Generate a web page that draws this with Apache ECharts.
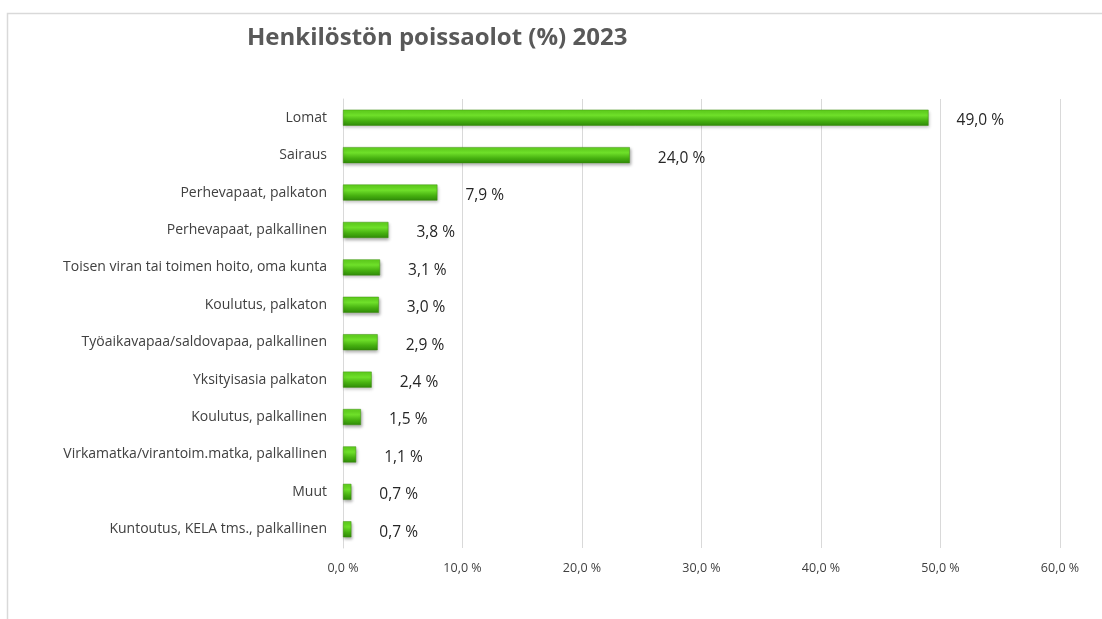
<!DOCTYPE html>
<html><head><meta charset="utf-8">
<script src="https://cdn.jsdelivr.net/npm/echarts@6/dist/echarts.min.js"></script>
<style>html,body{margin:0;padding:0;background:#fff}#c{width:1102px;height:619px}</style>
</head><body><div id="c"></div>
<script>
const categories = ["Lomat","Sairaus","Perhevapaat, palkaton","Perhevapaat, palkallinen","Toisen viran tai toimen hoito, oma kunta","Koulutus, palkaton","Työaikavapaa/saldovapaa, palkallinen","Yksityisasia palkaton","Koulutus, palkallinen","Virkamatka/virantoim.matka, palkallinen","Muut","Kuntoutus, KELA tms., palkallinen"];
const values = [49.0,24.0,7.9,3.8,3.1,3.0,2.9,2.4,1.5,1.1,0.7,0.7];
const titleText = "Henkilöstön poissaolot (%) 2023";
const fmt = v => v.toFixed(1).replace('.', ',') + ' %';
const chart = echarts.init(document.getElementById('c'));
chart.setOption({
  animation:false,
  backgroundColor:'#fff',
  title:{text:titleText,left:242,top:21,textStyle:{fontFamily:'Open Sans',fontWeight:'bold',fontSize:24,color:'#595959'}},
  graphic:[{type:'rect',shape:{x:7.5,y:13.5,width:1200,height:700},style:{fill:'none',stroke:'#d9d9d9',lineWidth:1.5},silent:true}],
  grid:{left:343,right:42,top:99,bottom:71,containLabel:false},
  xAxis:{type:'value',min:0,max:60,interval:10,
    axisLine:{show:false},axisTick:{show:false},
    splitLine:{lineStyle:{color:'#d9d9d9',width:1}},
    axisLabel:{formatter:fmt,color:'#404040',fontFamily:'Open Sans',fontSize:12.5,margin:14}},
  yAxis:{type:'category',data:categories,inverse:true,
    axisLine:{lineStyle:{color:'#d9d9d9'}},axisTick:{show:false},
    axisLabel:{color:'#404040',fontFamily:'Open Sans',fontSize:14,margin:16}},
  series:[{type:'bar',data:values,barWidth:16,
    itemStyle:{color:new echarts.graphic.LinearGradient(0,0,0,1,[{offset:0,color:'#5fd21c'},{offset:0.35,color:'#6fe02a'},{offset:0.7,color:'#46b010'},{offset:1,color:'#2f8a08'}]),
      borderColor:'#3c8f0c',borderWidth:0.5,shadowColor:'rgba(0,0,0,0.3)',shadowBlur:3,shadowOffsetX:1,shadowOffsetY:2},
    label:{show:true,position:'right',distance:28,offset:[0,3],formatter:p=>fmt(p.value),color:'#262626',fontFamily:'Open Sans',fontSize:15.5}
  }]
});
</script></body></html>
